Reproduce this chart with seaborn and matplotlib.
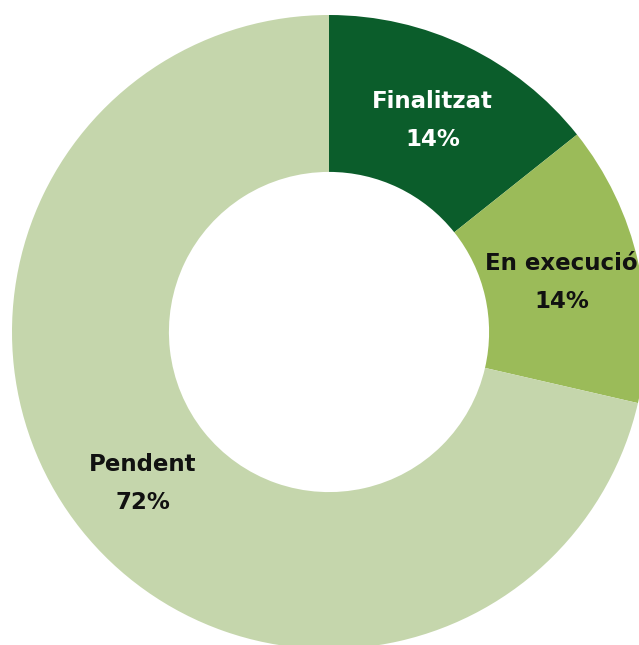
import numpy as np
import matplotlib.pyplot as plt
import seaborn as sns

# Estat de les actuacions
categories = ["Finalitzat", "En execució", "Pendent"]
values = [14.3, 14.3, 71.4]
pct_labels = ["14%", "14%", "72%"]
colors = ["#0b5d2b", "#9bbb59", "#c5d6ac"]
text_colors = ["white", "#111111", "#111111"]

sns.set_style("white")
plt.rcParams['font.family'] = ['DejaVu Sans']

fig = plt.figure(figsize=(6.39, 6.45), dpi=100)
ax = fig.add_axes([0, 0, 1, 1])

wedges, _ = ax.pie(values, colors=colors, startangle=90, counterclock=False,
                   radius=1.0, wedgeprops=dict(width=0.495, edgecolor="none"))

# labels at the middle of each wedge
for w, cat, pct, tc in zip(wedges, categories, pct_labels, text_colors):
    ang = np.deg2rad((w.theta1 + w.theta2) / 2)
    ax.text(0.752 * np.cos(ang), 0.752 * np.sin(ang) - 0.01, f"{cat}\n{pct}", ha="center", va="center",
            color=tc, fontsize=16.5, fontweight="bold", linespacing=1.8)

R = 317.0
ax.set_xlim(-329 / R, (639 - 329) / R)
ax.set_ylim(-(645 - 332) / R, 332 / R)
ax.set_aspect("auto")
ax.axis("off")

fig.savefig("out.png", dpi=100)
plt.close(fig)
